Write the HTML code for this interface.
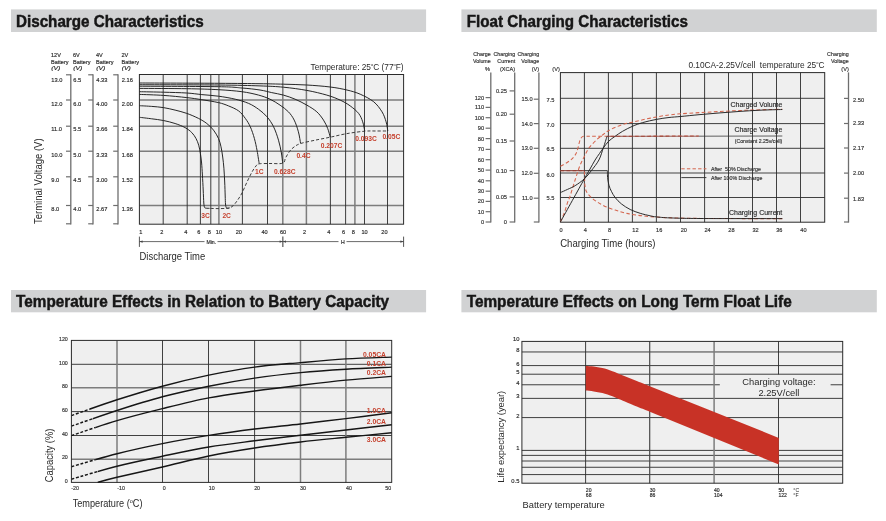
<!DOCTYPE html>
<html><head><meta charset="utf-8"><title>Battery characteristics</title>
<style>html,body{margin:0;padding:0;background:#fff;overflow:hidden}svg{display:block}text{font-family:'Liberation Sans',sans-serif}</style>
</head><body>
<svg width="886" height="521" viewBox="0 0 886 521">
<defs><filter id="soft" x="0" y="0" width="100%" height="100%" filterUnits="userSpaceOnUse"><feGaussianBlur stdDeviation="0.28"/></filter></defs>
<g filter="url(#soft)">
<rect width="886" height="521" fill="#ffffff"/>
<rect x="11" y="9.4" width="415.1" height="22.6" fill="#d1d2d3"/>
<text x="16.0" y="27.0" font-size="16.0" text-anchor="start" font-weight="bold" fill="#161616" textLength="187.6" lengthAdjust="spacingAndGlyphs" stroke="#161616" stroke-width="0.45">Discharge Characteristics</text>
<rect x="461.4" y="9.4" width="415.4" height="22.6" fill="#d1d2d3"/>
<text x="466.8" y="27.0" font-size="16.0" text-anchor="start" font-weight="bold" fill="#161616" textLength="221.2" lengthAdjust="spacingAndGlyphs" stroke="#161616" stroke-width="0.45">Float Charging Characteristics</text>
<rect x="11" y="290.0" width="415.1" height="22.3" fill="#d1d2d3"/>
<text x="16.1" y="307.4" font-size="16.0" text-anchor="start" font-weight="bold" fill="#161616" textLength="373.0" lengthAdjust="spacingAndGlyphs" stroke="#161616" stroke-width="0.45">Temperature Effects in Relation to Battery Capacity</text>
<rect x="461.4" y="290.0" width="415.4" height="22.3" fill="#d1d2d3"/>
<text x="466.7" y="307.4" font-size="16.0" text-anchor="start" font-weight="bold" fill="#161616" textLength="325.0" lengthAdjust="spacingAndGlyphs" stroke="#161616" stroke-width="0.45">Temperature Effects on Long Term Float Life</text>
<rect x="139.4" y="74.5" width="264.20000000000005" height="149.7" fill="#efefef"/>
<line x1="139.4" y1="100.0" x2="403.6" y2="100.0" stroke="#7d7d7d" stroke-width="1.4" />
<line x1="139.4" y1="126.2" x2="403.6" y2="126.2" stroke="#7d7d7d" stroke-width="1.4" />
<line x1="139.4" y1="151.2" x2="403.6" y2="151.2" stroke="#7d7d7d" stroke-width="1.4" />
<line x1="139.4" y1="176.8" x2="403.6" y2="176.8" stroke="#7d7d7d" stroke-width="1.4" />
<line x1="139.4" y1="205.5" x2="403.6" y2="205.5" stroke="#7d7d7d" stroke-width="1.4" />
<line x1="163.2" y1="74.5" x2="163.2" y2="224.2" stroke="#2a2a2a" stroke-width="0.9" />
<line x1="187.2" y1="74.5" x2="187.2" y2="224.2" stroke="#2a2a2a" stroke-width="0.9" />
<line x1="200.4" y1="74.5" x2="200.4" y2="224.2" stroke="#2a2a2a" stroke-width="0.9" />
<line x1="210.8" y1="74.5" x2="210.8" y2="224.2" stroke="#2a2a2a" stroke-width="0.9" />
<line x1="218.9" y1="74.5" x2="218.9" y2="224.2" stroke="#7d7d7d" stroke-width="1.5" />
<line x1="242.4" y1="74.5" x2="242.4" y2="224.2" stroke="#2a2a2a" stroke-width="0.9" />
<line x1="267.5" y1="74.5" x2="267.5" y2="224.2" stroke="#2a2a2a" stroke-width="0.9" />
<line x1="282.8" y1="74.5" x2="282.8" y2="224.2" stroke="#7d7d7d" stroke-width="1.5" />
<line x1="306.4" y1="74.5" x2="306.4" y2="224.2" stroke="#7d7d7d" stroke-width="1.5" />
<line x1="330.4" y1="74.5" x2="330.4" y2="224.2" stroke="#2a2a2a" stroke-width="0.9" />
<line x1="345.6" y1="74.5" x2="345.6" y2="224.2" stroke="#2a2a2a" stroke-width="0.9" />
<line x1="354.9" y1="74.5" x2="354.9" y2="224.2" stroke="#7d7d7d" stroke-width="1.5" />
<line x1="364.5" y1="74.5" x2="364.5" y2="224.2" stroke="#2a2a2a" stroke-width="0.9" />
<line x1="387.5" y1="74.5" x2="387.5" y2="224.2" stroke="#2a2a2a" stroke-width="0.9" />
<rect x="139.4" y="74.5" width="264.20000000000005" height="149.7" fill="none" stroke="#2b2b2b" stroke-width="1"/>
<path d="M139.50,117.30 C141.53,117.55 147.72,118.27 151.70,118.80 C155.68,119.33 159.50,119.72 163.40,120.50 C167.30,121.28 171.48,122.32 175.10,123.50 C178.72,124.68 182.32,126.08 185.10,127.60 C187.88,129.12 189.98,130.78 191.80,132.60 C193.62,134.42 194.85,136.40 196.00,138.50 C197.15,140.60 197.97,142.70 198.70,145.20 C199.43,147.70 199.92,150.53 200.40,153.50 C200.88,156.47 201.27,159.42 201.60,163.00 C201.93,166.58 202.13,170.50 202.40,175.00 C202.67,179.50 202.97,185.33 203.20,190.00 C203.43,194.67 203.57,200.10 203.80,203.00 C204.03,205.90 204.20,206.53 204.60,207.40 C205.00,208.27 205.38,208.05 206.20,208.20 C207.02,208.35 208.95,208.28 209.50,208.30" stroke="#1c1c1c" stroke-width="0.95" fill="none" />
<path d="M139.50,105.70 C141.53,105.82 147.72,106.08 151.70,106.40 C155.68,106.72 159.50,106.98 163.40,107.60 C167.30,108.22 171.20,109.13 175.10,110.10 C179.00,111.07 182.90,112.02 186.80,113.40 C190.70,114.78 195.17,116.72 198.50,118.40 C201.83,120.08 204.30,121.55 206.80,123.50 C209.30,125.45 211.55,127.60 213.50,130.10 C215.45,132.60 217.25,135.72 218.50,138.50 C219.75,141.28 220.30,143.72 221.00,146.80 C221.70,149.88 222.22,153.43 222.70,157.00 C223.18,160.57 223.57,164.03 223.90,168.20 C224.23,172.37 224.48,177.37 224.70,182.00 C224.92,186.63 225.07,192.33 225.20,196.00 C225.33,199.67 225.33,202.10 225.50,204.00 C225.67,205.90 225.85,206.70 226.20,207.40 C226.55,208.10 227.03,208.12 227.60,208.20 C228.17,208.28 229.27,207.95 229.60,207.90" stroke="#1c1c1c" stroke-width="0.95" fill="none" />
<path d="M139.50,94.40 C143.48,94.57 155.52,94.87 163.40,95.40 C171.28,95.93 180.40,96.88 186.80,97.60 C193.20,98.32 196.52,98.87 201.80,99.70 C207.08,100.53 214.05,101.57 218.50,102.60 C222.95,103.63 225.15,104.52 228.50,105.90 C231.85,107.28 235.80,108.82 238.60,110.90 C241.40,112.98 243.35,115.75 245.30,118.40 C247.25,121.05 248.78,123.45 250.30,126.80 C251.82,130.15 253.28,134.60 254.40,138.50 C255.52,142.40 256.35,146.95 257.00,150.20 C257.65,153.45 257.93,155.77 258.30,158.00 C258.67,160.23 259.05,162.67 259.20,163.60" stroke="#1c1c1c" stroke-width="0.95" fill="none" />
<path d="M139.50,91.70 C143.48,91.78 155.52,91.98 163.40,92.20 C171.28,92.42 180.40,92.60 186.80,93.00 C193.20,93.40 196.52,94.07 201.80,94.60 C207.08,95.13 212.93,95.43 218.50,96.20 C224.07,96.97 230.18,98.00 235.20,99.20 C240.22,100.40 244.70,101.72 248.60,103.40 C252.50,105.08 255.53,107.07 258.60,109.30 C261.67,111.53 264.50,113.88 267.00,116.80 C269.50,119.72 271.68,122.90 273.60,126.80 C275.52,130.70 277.20,135.83 278.50,140.20 C279.80,144.57 280.70,149.17 281.40,153.00 C282.10,156.83 282.48,161.50 282.70,163.20" stroke="#1c1c1c" stroke-width="0.95" fill="none" />
<path d="M139.50,88.40 C147.38,88.45 173.63,88.48 186.80,88.70 C199.97,88.92 209.32,89.20 218.50,89.70 C227.68,90.20 235.22,90.80 241.90,91.70 C248.58,92.60 253.92,93.85 258.60,95.10 C263.28,96.35 266.43,97.53 270.00,99.20 C273.57,100.87 276.93,103.00 280.00,105.10 C283.07,107.20 286.03,109.30 288.40,111.80 C290.77,114.30 292.53,116.77 294.20,120.10 C295.87,123.43 297.33,127.90 298.40,131.80 C299.47,135.70 300.23,141.55 300.60,143.50" stroke="#1c1c1c" stroke-width="0.95" fill="none" />
<path d="M139.50,86.20 C152.67,86.28 201.43,86.40 218.50,86.70 C235.57,87.00 234.98,87.45 241.90,88.00 C248.82,88.55 255.03,89.23 260.00,90.00 C264.97,90.77 267.80,91.75 271.70,92.60 C275.60,93.45 279.50,94.00 283.40,95.10 C287.30,96.20 291.20,97.53 295.10,99.20 C299.00,100.87 303.18,103.00 306.80,105.10 C310.42,107.20 314.02,109.30 316.80,111.80 C319.58,114.30 321.68,117.32 323.50,120.10 C325.32,122.88 326.58,125.68 327.70,128.50 C328.82,131.32 329.78,135.58 330.20,137.00" stroke="#1c1c1c" stroke-width="0.95" fill="none" />
<path d="M139.50,84.70 C152.67,84.75 198.42,84.80 218.50,85.00 C238.58,85.20 249.18,85.53 260.00,85.90 C270.82,86.27 275.60,86.45 283.40,87.20 C291.20,87.95 299.57,89.08 306.80,90.40 C314.03,91.72 321.23,93.48 326.80,95.10 C332.37,96.72 336.30,98.30 340.20,100.10 C344.10,101.90 347.13,103.68 350.20,105.90 C353.27,108.12 356.52,110.75 358.60,113.40 C360.68,116.05 361.68,118.87 362.70,121.80 C363.72,124.73 364.37,129.47 364.70,131.00" stroke="#1c1c1c" stroke-width="0.95" fill="none" />
<path d="M139.50,83.00 C152.67,83.05 198.42,83.18 218.50,83.30 C238.58,83.42 249.18,83.55 260.00,83.70 C270.82,83.85 275.60,83.98 283.40,84.20 C291.20,84.42 299.00,84.53 306.80,85.00 C314.60,85.47 323.52,86.17 330.20,87.00 C336.88,87.83 341.90,88.80 346.90,90.00 C351.90,91.20 355.75,92.25 360.20,94.20 C364.65,96.15 369.97,98.77 373.60,101.70 C377.23,104.63 379.92,108.45 382.00,111.80 C384.08,115.15 385.13,118.60 386.10,121.80 C387.07,125.00 387.52,129.47 387.80,131.00" stroke="#1c1c1c" stroke-width="0.95" fill="none" />
<path d="M210.50,208.40 C211.75,208.43 215.42,208.60 218.00,208.60 C220.58,208.60 224.07,208.52 226.00,208.40 C227.93,208.28 228.43,208.33 229.60,207.90 C230.77,207.47 231.77,206.95 233.00,205.80 C234.23,204.65 235.50,203.13 237.00,201.00 C238.50,198.87 240.33,196.17 242.00,193.00 C243.67,189.83 245.33,185.50 247.00,182.00 C248.67,178.50 250.50,174.67 252.00,172.00 C253.50,169.33 254.80,167.37 256.00,166.00 C257.20,164.63 256.87,164.22 259.20,163.80 C261.53,163.38 266.08,163.60 270.00,163.50 C273.92,163.40 280.12,164.12 282.70,163.20 C285.28,162.28 284.37,159.95 285.50,158.00 C286.63,156.05 288.08,153.33 289.50,151.50 C290.92,149.67 292.15,148.33 294.00,147.00 C295.85,145.67 297.08,144.63 300.60,143.50 C304.12,142.37 310.17,141.25 315.10,140.20 C320.03,139.15 324.90,138.30 330.20,137.20 C335.50,136.10 341.15,134.60 346.90,133.60 C352.65,132.60 359.85,131.63 364.70,131.20 C369.55,130.77 372.15,131.03 376.00,131.00 C379.85,130.97 385.83,131.00 387.80,131.00" stroke="#2a2a2a" stroke-width="0.9" fill="none" stroke-dasharray="3.2 2"/>
<text x="201.3" y="217.7" font-size="6.7" text-anchor="start" font-weight="bold" fill="#c5402d" >3C</text>
<text x="222.4" y="217.7" font-size="6.7" text-anchor="start" font-weight="bold" fill="#c5402d" >2C</text>
<text x="255" y="173.8" font-size="6.7" text-anchor="start" font-weight="bold" fill="#c5402d" >1C</text>
<text x="273.9" y="173.8" font-size="6.7" text-anchor="start" font-weight="bold" fill="#c5402d" >0.628C</text>
<text x="296.4" y="158" font-size="6.7" text-anchor="start" font-weight="bold" fill="#c5402d" >0.4C</text>
<text x="320.7" y="148.3" font-size="6.7" text-anchor="start" font-weight="bold" fill="#c5402d" >0.207C</text>
<text x="355.3" y="140.5" font-size="6.7" text-anchor="start" font-weight="bold" fill="#c5402d" >0.093C</text>
<text x="382.4" y="139" font-size="6.7" text-anchor="start" font-weight="bold" fill="#c5402d" >0.05C</text>
<text x="51.0" y="57.1" font-size="5.55" text-anchor="start" font-weight="normal" fill="#2b2b2b"  stroke="#2b2b2b" stroke-width="0.16">12V</text>
<text x="51.0" y="64.1" font-size="5.55" text-anchor="start" font-weight="normal" fill="#2b2b2b"  stroke="#2b2b2b" stroke-width="0.16">Battery</text>
<text x="51.199999999999996" y="70.4" font-size="5.55" text-anchor="start" font-weight="normal" fill="#2b2b2b" textLength="9.2" lengthAdjust="spacingAndGlyphs" font-style="italic" stroke="#2b2b2b" stroke-width="0.16">(V)</text>
<text x="51.3" y="82.1" font-size="5.7" text-anchor="start" font-weight="normal" fill="#2b2b2b"  stroke="#2b2b2b" stroke-width="0.16">13.0</text>
<text x="51.3" y="105.5" font-size="5.7" text-anchor="start" font-weight="normal" fill="#2b2b2b"  stroke="#2b2b2b" stroke-width="0.16">12.0</text>
<text x="51.3" y="131.0" font-size="5.7" text-anchor="start" font-weight="normal" fill="#2b2b2b"  stroke="#2b2b2b" stroke-width="0.16">11.0</text>
<text x="51.3" y="156.7" font-size="5.7" text-anchor="start" font-weight="normal" fill="#2b2b2b"  stroke="#2b2b2b" stroke-width="0.16">10.0</text>
<text x="51.3" y="182.1" font-size="5.7" text-anchor="start" font-weight="normal" fill="#2b2b2b"  stroke="#2b2b2b" stroke-width="0.16">9.0</text>
<text x="51.3" y="210.5" font-size="5.7" text-anchor="start" font-weight="normal" fill="#2b2b2b"  stroke="#2b2b2b" stroke-width="0.16">8.0</text>
<text x="73.0" y="57.1" font-size="5.55" text-anchor="start" font-weight="normal" fill="#2b2b2b"  stroke="#2b2b2b" stroke-width="0.16">6V</text>
<text x="73.0" y="64.1" font-size="5.55" text-anchor="start" font-weight="normal" fill="#2b2b2b"  stroke="#2b2b2b" stroke-width="0.16">Battery</text>
<text x="73.2" y="70.4" font-size="5.55" text-anchor="start" font-weight="normal" fill="#2b2b2b" textLength="9.2" lengthAdjust="spacingAndGlyphs" font-style="italic" stroke="#2b2b2b" stroke-width="0.16">(V)</text>
<text x="73.3" y="82.1" font-size="5.7" text-anchor="start" font-weight="normal" fill="#2b2b2b"  stroke="#2b2b2b" stroke-width="0.16">6.5</text>
<text x="73.3" y="105.5" font-size="5.7" text-anchor="start" font-weight="normal" fill="#2b2b2b"  stroke="#2b2b2b" stroke-width="0.16">6.0</text>
<text x="73.3" y="131.0" font-size="5.7" text-anchor="start" font-weight="normal" fill="#2b2b2b"  stroke="#2b2b2b" stroke-width="0.16">5.5</text>
<text x="73.3" y="156.7" font-size="5.7" text-anchor="start" font-weight="normal" fill="#2b2b2b"  stroke="#2b2b2b" stroke-width="0.16">5.0</text>
<text x="73.3" y="182.1" font-size="5.7" text-anchor="start" font-weight="normal" fill="#2b2b2b"  stroke="#2b2b2b" stroke-width="0.16">4.5</text>
<text x="73.3" y="210.5" font-size="5.7" text-anchor="start" font-weight="normal" fill="#2b2b2b"  stroke="#2b2b2b" stroke-width="0.16">4.0</text>
<line x1="70.8" y1="74.2" x2="70.8" y2="224.4" stroke="#6e6e6e" stroke-width="1.3" />
<line x1="66.0" y1="74.8" x2="70.8" y2="74.8" stroke="#6e6e6e" stroke-width="1.2" />
<line x1="66.0" y1="100.0" x2="70.8" y2="100.0" stroke="#6e6e6e" stroke-width="1.2" />
<line x1="66.0" y1="126.2" x2="70.8" y2="126.2" stroke="#6e6e6e" stroke-width="1.2" />
<line x1="66.0" y1="151.2" x2="70.8" y2="151.2" stroke="#6e6e6e" stroke-width="1.2" />
<line x1="66.0" y1="176.8" x2="70.8" y2="176.8" stroke="#6e6e6e" stroke-width="1.2" />
<line x1="66.0" y1="205.5" x2="70.8" y2="205.5" stroke="#6e6e6e" stroke-width="1.2" />
<line x1="66.0" y1="223.8" x2="70.8" y2="223.8" stroke="#6e6e6e" stroke-width="1.2" />
<text x="96.0" y="57.1" font-size="5.55" text-anchor="start" font-weight="normal" fill="#2b2b2b"  stroke="#2b2b2b" stroke-width="0.16">4V</text>
<text x="96.0" y="64.1" font-size="5.55" text-anchor="start" font-weight="normal" fill="#2b2b2b"  stroke="#2b2b2b" stroke-width="0.16">Battery</text>
<text x="96.2" y="70.4" font-size="5.55" text-anchor="start" font-weight="normal" fill="#2b2b2b" textLength="9.2" lengthAdjust="spacingAndGlyphs" font-style="italic" stroke="#2b2b2b" stroke-width="0.16">(V)</text>
<text x="96.3" y="82.1" font-size="5.7" text-anchor="start" font-weight="normal" fill="#2b2b2b"  stroke="#2b2b2b" stroke-width="0.16">4.33</text>
<text x="96.3" y="105.5" font-size="5.7" text-anchor="start" font-weight="normal" fill="#2b2b2b"  stroke="#2b2b2b" stroke-width="0.16">4.00</text>
<text x="96.3" y="131.0" font-size="5.7" text-anchor="start" font-weight="normal" fill="#2b2b2b"  stroke="#2b2b2b" stroke-width="0.16">3.66</text>
<text x="96.3" y="156.7" font-size="5.7" text-anchor="start" font-weight="normal" fill="#2b2b2b"  stroke="#2b2b2b" stroke-width="0.16">3.33</text>
<text x="96.3" y="182.1" font-size="5.7" text-anchor="start" font-weight="normal" fill="#2b2b2b"  stroke="#2b2b2b" stroke-width="0.16">3.00</text>
<text x="96.3" y="210.5" font-size="5.7" text-anchor="start" font-weight="normal" fill="#2b2b2b"  stroke="#2b2b2b" stroke-width="0.16">2.67</text>
<line x1="93.0" y1="74.2" x2="93.0" y2="224.4" stroke="#6e6e6e" stroke-width="1.3" />
<line x1="88.2" y1="74.8" x2="93.0" y2="74.8" stroke="#6e6e6e" stroke-width="1.2" />
<line x1="88.2" y1="100.0" x2="93.0" y2="100.0" stroke="#6e6e6e" stroke-width="1.2" />
<line x1="88.2" y1="126.2" x2="93.0" y2="126.2" stroke="#6e6e6e" stroke-width="1.2" />
<line x1="88.2" y1="151.2" x2="93.0" y2="151.2" stroke="#6e6e6e" stroke-width="1.2" />
<line x1="88.2" y1="176.8" x2="93.0" y2="176.8" stroke="#6e6e6e" stroke-width="1.2" />
<line x1="88.2" y1="205.5" x2="93.0" y2="205.5" stroke="#6e6e6e" stroke-width="1.2" />
<line x1="88.2" y1="223.8" x2="93.0" y2="223.8" stroke="#6e6e6e" stroke-width="1.2" />
<text x="121.5" y="57.1" font-size="5.55" text-anchor="start" font-weight="normal" fill="#2b2b2b"  stroke="#2b2b2b" stroke-width="0.16">2V</text>
<text x="121.5" y="64.1" font-size="5.55" text-anchor="start" font-weight="normal" fill="#2b2b2b"  stroke="#2b2b2b" stroke-width="0.16">Battery</text>
<text x="121.7" y="70.4" font-size="5.55" text-anchor="start" font-weight="normal" fill="#2b2b2b" textLength="9.2" lengthAdjust="spacingAndGlyphs" font-style="italic" stroke="#2b2b2b" stroke-width="0.16">(V)</text>
<text x="121.8" y="82.1" font-size="5.7" text-anchor="start" font-weight="normal" fill="#2b2b2b"  stroke="#2b2b2b" stroke-width="0.16">2.16</text>
<text x="121.8" y="105.5" font-size="5.7" text-anchor="start" font-weight="normal" fill="#2b2b2b"  stroke="#2b2b2b" stroke-width="0.16">2.00</text>
<text x="121.8" y="131.0" font-size="5.7" text-anchor="start" font-weight="normal" fill="#2b2b2b"  stroke="#2b2b2b" stroke-width="0.16">1.84</text>
<text x="121.8" y="156.7" font-size="5.7" text-anchor="start" font-weight="normal" fill="#2b2b2b"  stroke="#2b2b2b" stroke-width="0.16">1.68</text>
<text x="121.8" y="182.1" font-size="5.7" text-anchor="start" font-weight="normal" fill="#2b2b2b"  stroke="#2b2b2b" stroke-width="0.16">1.52</text>
<text x="121.8" y="210.5" font-size="5.7" text-anchor="start" font-weight="normal" fill="#2b2b2b"  stroke="#2b2b2b" stroke-width="0.16">1.36</text>
<line x1="118.0" y1="74.2" x2="118.0" y2="224.4" stroke="#6e6e6e" stroke-width="1.3" />
<line x1="113.2" y1="74.8" x2="118.0" y2="74.8" stroke="#6e6e6e" stroke-width="1.2" />
<line x1="113.2" y1="100.0" x2="118.0" y2="100.0" stroke="#6e6e6e" stroke-width="1.2" />
<line x1="113.2" y1="126.2" x2="118.0" y2="126.2" stroke="#6e6e6e" stroke-width="1.2" />
<line x1="113.2" y1="151.2" x2="118.0" y2="151.2" stroke="#6e6e6e" stroke-width="1.2" />
<line x1="113.2" y1="176.8" x2="118.0" y2="176.8" stroke="#6e6e6e" stroke-width="1.2" />
<line x1="113.2" y1="205.5" x2="118.0" y2="205.5" stroke="#6e6e6e" stroke-width="1.2" />
<line x1="113.2" y1="223.8" x2="118.0" y2="223.8" stroke="#6e6e6e" stroke-width="1.2" />
<text x="140.9" y="233.6" font-size="5.6" text-anchor="middle" font-weight="normal" fill="#2b2b2b"  stroke="#2b2b2b" stroke-width="0.16">1</text>
<text x="161.7" y="233.6" font-size="5.6" text-anchor="middle" font-weight="normal" fill="#2b2b2b"  stroke="#2b2b2b" stroke-width="0.16">2</text>
<text x="185.7" y="233.6" font-size="5.6" text-anchor="middle" font-weight="normal" fill="#2b2b2b"  stroke="#2b2b2b" stroke-width="0.16">4</text>
<text x="198.7" y="233.6" font-size="5.6" text-anchor="middle" font-weight="normal" fill="#2b2b2b"  stroke="#2b2b2b" stroke-width="0.16">6</text>
<text x="209.3" y="233.6" font-size="5.6" text-anchor="middle" font-weight="normal" fill="#2b2b2b"  stroke="#2b2b2b" stroke-width="0.16">8</text>
<text x="218.9" y="233.6" font-size="5.6" text-anchor="middle" font-weight="normal" fill="#2b2b2b"  stroke="#2b2b2b" stroke-width="0.16">10</text>
<text x="238.8" y="233.6" font-size="5.6" text-anchor="middle" font-weight="normal" fill="#2b2b2b"  stroke="#2b2b2b" stroke-width="0.16">20</text>
<text x="264.6" y="233.6" font-size="5.6" text-anchor="middle" font-weight="normal" fill="#2b2b2b"  stroke="#2b2b2b" stroke-width="0.16">40</text>
<text x="283.0" y="233.6" font-size="5.6" text-anchor="middle" font-weight="normal" fill="#2b2b2b"  stroke="#2b2b2b" stroke-width="0.16">60</text>
<text x="304.5" y="233.6" font-size="5.6" text-anchor="middle" font-weight="normal" fill="#2b2b2b"  stroke="#2b2b2b" stroke-width="0.16">2</text>
<text x="328.7" y="233.6" font-size="5.6" text-anchor="middle" font-weight="normal" fill="#2b2b2b"  stroke="#2b2b2b" stroke-width="0.16">4</text>
<text x="343.5" y="233.6" font-size="5.6" text-anchor="middle" font-weight="normal" fill="#2b2b2b"  stroke="#2b2b2b" stroke-width="0.16">6</text>
<text x="353.3" y="233.6" font-size="5.6" text-anchor="middle" font-weight="normal" fill="#2b2b2b"  stroke="#2b2b2b" stroke-width="0.16">8</text>
<text x="364.6" y="233.6" font-size="5.6" text-anchor="middle" font-weight="normal" fill="#2b2b2b"  stroke="#2b2b2b" stroke-width="0.16">10</text>
<text x="384.4" y="233.6" font-size="5.6" text-anchor="middle" font-weight="normal" fill="#2b2b2b"  stroke="#2b2b2b" stroke-width="0.16">20</text>
<line x1="139.4" y1="236.6" x2="139.4" y2="246.9" stroke="#555" stroke-width="1.0" />
<line x1="282.8" y1="236.6" x2="282.8" y2="246.9" stroke="#777" stroke-width="1.5" />
<line x1="403.6" y1="236.6" x2="403.6" y2="246.9" stroke="#555" stroke-width="1.0" />
<line x1="139.4" y1="241.6" x2="204.5" y2="241.6" stroke="#444" stroke-width="0.8" />
<line x1="217.5" y1="241.6" x2="282.8" y2="241.6" stroke="#444" stroke-width="0.8" />
<line x1="282.8" y1="241.6" x2="338.5" y2="241.6" stroke="#444" stroke-width="0.8" />
<line x1="346.5" y1="241.6" x2="403.6" y2="241.6" stroke="#444" stroke-width="0.8" />
<path d="M139.4,241.6 l3.2,-1.2 l0,2.4 z" fill="#444"/>
<path d="M282.8,241.6 l-3.2,-1.2 l0,2.4 z" fill="#444"/>
<path d="M282.8,241.6 l3.2,-1.2 l0,2.4 z" fill="#444"/>
<path d="M403.6,241.6 l-3.2,-1.2 l0,2.4 z" fill="#444"/>
<text x="211.3" y="243.6" font-size="5.2" text-anchor="middle" font-weight="normal" fill="#2b2b2b"  stroke="#2b2b2b" stroke-width="0.16">Min.</text>
<text x="342.9" y="243.6" font-size="5.2" text-anchor="middle" font-weight="normal" fill="#2b2b2b"  stroke="#2b2b2b" stroke-width="0.16">H</text>
<text x="139.5" y="260.2" font-size="10.2" text-anchor="start" font-weight="normal" fill="#2a2a2a" textLength="65.7" lengthAdjust="spacingAndGlyphs" >Discharge Time</text>
<text transform="translate(42.2,224.0) rotate(-90)" font-size="10.2" fill="#2a2a2a" textLength="85.6" lengthAdjust="spacingAndGlyphs">Terminal Voltage (V)</text>
<text x="403.6" y="70" font-size="8.3" text-anchor="end" fill="#2a2a2a">Temperature: 25<tspan font-size="4.0" dy="-3.9">o</tspan><tspan dy="3.9">C (77</tspan><tspan font-size="4.0" dy="-3.9">o</tspan><tspan dy="3.9">F)</tspan></text>
<rect x="560.4" y="72.6" width="264.30000000000007" height="149.6" fill="#efefef"/>
<line x1="560.4" y1="98.3" x2="824.7" y2="98.3" stroke="#2a2a2a" stroke-width="0.9" />
<line x1="560.4" y1="123.6" x2="824.7" y2="123.6" stroke="#2a2a2a" stroke-width="0.9" />
<line x1="560.4" y1="148.3" x2="824.7" y2="148.3" stroke="#2a2a2a" stroke-width="0.9" />
<line x1="560.4" y1="173.0" x2="824.7" y2="173.0" stroke="#7d7d7d" stroke-width="1.5" />
<line x1="560.4" y1="197.5" x2="824.7" y2="197.5" stroke="#2a2a2a" stroke-width="0.9" />
<line x1="584.4" y1="72.6" x2="584.4" y2="222.2" stroke="#2a2a2a" stroke-width="0.9" />
<line x1="608.4" y1="72.6" x2="608.4" y2="222.2" stroke="#2a2a2a" stroke-width="0.9" />
<line x1="632.4" y1="72.6" x2="632.4" y2="222.2" stroke="#2a2a2a" stroke-width="0.9" />
<line x1="656.4" y1="72.6" x2="656.4" y2="222.2" stroke="#2a2a2a" stroke-width="0.9" />
<line x1="680.5" y1="72.6" x2="680.5" y2="222.2" stroke="#2a2a2a" stroke-width="0.9" />
<line x1="704.6" y1="72.6" x2="704.6" y2="222.2" stroke="#2a2a2a" stroke-width="0.9" />
<line x1="728.5" y1="72.6" x2="728.5" y2="222.2" stroke="#2a2a2a" stroke-width="0.9" />
<line x1="752.5" y1="72.6" x2="752.5" y2="222.2" stroke="#2a2a2a" stroke-width="0.9" />
<line x1="776.5" y1="72.6" x2="776.5" y2="222.2" stroke="#2a2a2a" stroke-width="0.9" />
<line x1="800.5" y1="72.6" x2="800.5" y2="222.2" stroke="#2a2a2a" stroke-width="0.9" />
<rect x="560.4" y="72.6" width="264.30000000000007" height="149.6" fill="none" stroke="#2b2b2b" stroke-width="1"/>
<path d="M560.40,222.00 C561.07,220.43 563.22,215.83 564.40,212.60 C565.58,209.37 566.57,205.32 567.50,202.60 C568.43,199.88 568.73,200.07 570.00,196.30 C571.27,192.53 573.43,185.13 575.10,180.00 C576.77,174.87 578.45,169.43 580.00,165.50 C581.55,161.57 582.93,159.28 584.40,156.40 C585.87,153.52 586.82,150.92 588.80,148.20 C590.78,145.48 593.90,142.38 596.30,140.10 C598.70,137.82 601.17,136.07 603.20,134.50 C605.23,132.93 606.30,131.97 608.50,130.70 C610.70,129.43 613.63,128.05 616.40,126.90 C619.17,125.75 622.43,124.58 625.10,123.80 C627.77,123.02 629.47,122.87 632.40,122.20 C635.33,121.53 638.68,120.68 642.70,119.80 C646.72,118.92 652.12,117.70 656.50,116.90 C660.88,116.10 664.98,115.52 669.00,115.00 C673.02,114.48 675.43,114.20 680.60,113.80 C685.77,113.40 693.43,112.98 700.00,112.60 C706.57,112.22 713.33,111.85 720.00,111.50 C726.67,111.15 733.33,110.78 740.00,110.50 C746.67,110.22 752.95,110.00 760.00,109.80 C767.05,109.60 778.58,109.38 782.30,109.30" stroke="#d4654e" stroke-width="1.05" fill="none" stroke-dasharray="3.7 2.4"/>
<path d="M560.40,166.30 C561.58,165.63 565.40,163.72 567.50,162.30 C569.60,160.88 571.53,159.35 573.00,157.80 C574.47,156.25 575.45,154.70 576.30,153.00 C577.15,151.30 577.48,149.75 578.10,147.60 C578.72,145.45 579.27,141.93 580.00,140.10 C580.73,138.27 581.50,137.23 582.50,136.60 C583.50,135.97 583.08,136.35 586.00,136.30 C588.92,136.25 581.20,136.35 600.00,136.30 C618.80,136.25 682.33,136.05 698.80,136.00" stroke="#d4654e" stroke-width="1.05" fill="none" stroke-dasharray="3.7 2.4"/>
<path d="M560.4,170.7 L584.3,170.7 L584.40,172.00 C584.43,173.00 584.52,175.82 584.60,178.00 C584.68,180.18 584.62,182.88 584.90,185.10 C585.18,187.32 585.43,189.43 586.30,191.30 C587.17,193.17 588.42,194.62 590.10,196.30 C591.78,197.98 593.90,199.72 596.40,201.40 C598.90,203.08 601.97,204.95 605.10,206.40 C608.23,207.85 611.85,209.00 615.20,210.10 C618.55,211.20 621.65,212.17 625.20,213.00 C628.75,213.83 632.33,214.50 636.50,215.10 C640.67,215.70 644.62,216.15 650.20,216.60 C655.78,217.05 661.70,217.50 670.00,217.80 C678.30,218.10 688.33,218.27 700.00,218.40 C711.67,218.53 726.28,218.57 740.00,218.60 C753.72,218.63 775.25,218.60 782.30,218.60" stroke="#d4654e" stroke-width="1.05" fill="none" stroke-dasharray="3.7 2.4"/>
<path d="M560.40,222.00 C562.40,218.40 568.40,207.60 572.40,200.40 C576.40,193.20 581.47,184.03 584.40,178.80 C587.33,173.57 588.22,172.13 590.00,169.00 C591.78,165.87 593.52,162.58 595.10,160.00 C596.68,157.42 598.15,155.47 599.50,153.50 C600.85,151.53 601.70,150.22 603.20,148.20 C604.70,146.18 606.52,143.38 608.50,141.40 C610.48,139.42 612.75,137.98 615.10,136.30 C617.45,134.62 619.72,132.97 622.60,131.30 C625.48,129.63 629.05,127.75 632.40,126.30 C635.75,124.85 638.68,123.75 642.70,122.60 C646.72,121.45 652.12,120.25 656.50,119.40 C660.88,118.55 664.98,117.98 669.00,117.50 C673.02,117.02 675.43,116.98 680.60,116.50 C685.77,116.02 693.43,115.20 700.00,114.60 C706.57,114.00 713.33,113.43 720.00,112.90 C726.67,112.37 733.33,111.85 740.00,111.40 C746.67,110.95 752.95,110.52 760.00,110.20 C767.05,109.88 778.58,109.62 782.30,109.50" stroke="#222" stroke-width="0.95" fill="none" />
<path d="M560.40,192.60 C561.58,192.07 565.05,190.55 567.50,189.40 C569.95,188.25 572.28,187.47 575.10,185.70 C577.92,183.93 581.70,181.30 584.40,178.80 C587.10,176.30 588.88,173.83 591.30,170.70 C593.72,167.57 596.92,163.75 598.90,160.00 C600.88,156.25 602.12,151.28 603.20,148.20 C604.28,145.12 604.77,143.48 605.40,141.50 C606.03,139.52 606.73,137.17 607.00,136.30" stroke="#222" stroke-width="0.95" fill="none" />
<path d="M584.3,170.7 L607.3,170.7 L607.40,170.70 C607.41,171.00 607.42,171.37 607.45,172.50 C607.48,173.63 607.36,175.40 607.60,177.50 C607.84,179.60 608.27,182.80 608.90,185.10 C609.53,187.40 610.35,189.22 611.40,191.30 C612.45,193.38 613.53,195.50 615.20,197.60 C616.87,199.70 618.90,201.92 621.40,203.90 C623.90,205.88 627.07,207.93 630.20,209.50 C633.33,211.07 636.87,212.25 640.20,213.30 C643.53,214.35 647.48,215.20 650.20,215.80 C652.92,216.40 653.20,216.55 656.50,216.90 C659.80,217.25 662.75,217.63 670.00,217.90 C677.25,218.17 681.28,218.38 700.00,218.50 C718.72,218.62 768.58,218.58 782.30,218.60" stroke="#222" stroke-width="0.95" fill="none" />
<line x1="560.4" y1="170.7" x2="584.6" y2="170.7" stroke="#7e3028" stroke-width="1.0" />
<line x1="607.0" y1="136.3" x2="698.8" y2="136.2" stroke="#7e3028" stroke-width="0.8" />
<line x1="698.8" y1="136.2" x2="782.3" y2="136.0" stroke="#3a3a3a" stroke-width="0.8" />
<text x="782.3" y="106.7" font-size="6.95" text-anchor="end" font-weight="normal" fill="#2c2c2c"  stroke="#2c2c2c" stroke-width="0.16">Charged Volume</text>
<text x="782.3" y="132.0" font-size="6.95" text-anchor="end" font-weight="normal" fill="#2c2c2c"  stroke="#2c2c2c" stroke-width="0.16">Charge Voltage</text>
<text x="782.3" y="143.1" font-size="5.2" text-anchor="end" font-weight="normal" fill="#333"  stroke="#333" stroke-width="0.16">(Constant 2.25v/cell)</text>
<text x="782.3" y="214.8" font-size="6.95" text-anchor="end" font-weight="normal" fill="#2c2c2c"  stroke="#2c2c2c" stroke-width="0.16">Charging Current</text>
<line x1="681.3" y1="168.8" x2="706.4" y2="168.8" stroke="#d4654e" stroke-width="1.0" stroke-dasharray="3.4 2.2"/>
<line x1="681.3" y1="177.6" x2="706.4" y2="177.6" stroke="#2a2a2a" stroke-width="0.9" />
<text x="710.9" y="170.7" font-size="5.3" text-anchor="start" font-weight="normal" fill="#333"  stroke="#333" stroke-width="0.16">After&#160; 50% Discharge</text>
<text x="710.9" y="179.5" font-size="5.3" text-anchor="start" font-weight="normal" fill="#333"  stroke="#333" stroke-width="0.16">After 100% Discharge</text>
<line x1="490.8" y1="72.4" x2="490.8" y2="222.6" stroke="#6e6e6e" stroke-width="1.3" />
<line x1="514.7" y1="72.4" x2="514.7" y2="222.6" stroke="#6e6e6e" stroke-width="1.3" />
<line x1="538.9" y1="72.4" x2="538.9" y2="222.6" stroke="#6e6e6e" stroke-width="1.3" />
<line x1="485.6" y1="97.6" x2="490.8" y2="97.6" stroke="#6e6e6e" stroke-width="1.2" />
<text x="484.2" y="99.6" font-size="5.7" text-anchor="end" font-weight="normal" fill="#333"  stroke="#333" stroke-width="0.16">120</text>
<line x1="485.6" y1="107.4" x2="490.8" y2="107.4" stroke="#6e6e6e" stroke-width="1.2" />
<text x="484.2" y="109.4" font-size="5.7" text-anchor="end" font-weight="normal" fill="#333"  stroke="#333" stroke-width="0.16">110</text>
<line x1="485.6" y1="117.7" x2="490.8" y2="117.7" stroke="#6e6e6e" stroke-width="1.2" />
<text x="484.2" y="119.7" font-size="5.7" text-anchor="end" font-weight="normal" fill="#333"  stroke="#333" stroke-width="0.16">100</text>
<line x1="485.6" y1="128.2" x2="490.8" y2="128.2" stroke="#6e6e6e" stroke-width="1.2" />
<text x="484.2" y="130.2" font-size="5.7" text-anchor="end" font-weight="normal" fill="#333"  stroke="#333" stroke-width="0.16">90</text>
<line x1="485.6" y1="138.6" x2="490.8" y2="138.6" stroke="#6e6e6e" stroke-width="1.2" />
<text x="484.2" y="140.6" font-size="5.7" text-anchor="end" font-weight="normal" fill="#333"  stroke="#333" stroke-width="0.16">80</text>
<line x1="485.6" y1="149.4" x2="490.8" y2="149.4" stroke="#6e6e6e" stroke-width="1.2" />
<text x="484.2" y="151.4" font-size="5.7" text-anchor="end" font-weight="normal" fill="#333"  stroke="#333" stroke-width="0.16">70</text>
<line x1="485.6" y1="159.7" x2="490.8" y2="159.7" stroke="#6e6e6e" stroke-width="1.2" />
<text x="484.2" y="161.7" font-size="5.7" text-anchor="end" font-weight="normal" fill="#333"  stroke="#333" stroke-width="0.16">60</text>
<line x1="485.6" y1="170.1" x2="490.8" y2="170.1" stroke="#6e6e6e" stroke-width="1.2" />
<text x="484.2" y="172.1" font-size="5.7" text-anchor="end" font-weight="normal" fill="#333"  stroke="#333" stroke-width="0.16">50</text>
<line x1="485.6" y1="180.8" x2="490.8" y2="180.8" stroke="#6e6e6e" stroke-width="1.2" />
<text x="484.2" y="182.8" font-size="5.7" text-anchor="end" font-weight="normal" fill="#333"  stroke="#333" stroke-width="0.16">40</text>
<line x1="485.6" y1="191.2" x2="490.8" y2="191.2" stroke="#6e6e6e" stroke-width="1.2" />
<text x="484.2" y="193.2" font-size="5.7" text-anchor="end" font-weight="normal" fill="#333"  stroke="#333" stroke-width="0.16">30</text>
<line x1="485.6" y1="201.4" x2="490.8" y2="201.4" stroke="#6e6e6e" stroke-width="1.2" />
<text x="484.2" y="203.4" font-size="5.7" text-anchor="end" font-weight="normal" fill="#333"  stroke="#333" stroke-width="0.16">20</text>
<line x1="485.6" y1="211.7" x2="490.8" y2="211.7" stroke="#6e6e6e" stroke-width="1.2" />
<text x="484.2" y="213.7" font-size="5.7" text-anchor="end" font-weight="normal" fill="#333"  stroke="#333" stroke-width="0.16">10</text>
<line x1="485.6" y1="222.0" x2="490.8" y2="222.0" stroke="#6e6e6e" stroke-width="1.2" />
<text x="484.2" y="224.0" font-size="5.7" text-anchor="end" font-weight="normal" fill="#333"  stroke="#333" stroke-width="0.16">0</text>
<line x1="509.6" y1="90.9" x2="514.7" y2="90.9" stroke="#6e6e6e" stroke-width="1.2" />
<text x="507.0" y="92.9" font-size="5.7" text-anchor="end" font-weight="normal" fill="#333"  stroke="#333" stroke-width="0.16">0.25</text>
<line x1="509.6" y1="114.2" x2="514.7" y2="114.2" stroke="#6e6e6e" stroke-width="1.2" />
<text x="507.0" y="116.2" font-size="5.7" text-anchor="end" font-weight="normal" fill="#333"  stroke="#333" stroke-width="0.16">0.20</text>
<line x1="509.6" y1="141.0" x2="514.7" y2="141.0" stroke="#6e6e6e" stroke-width="1.2" />
<text x="507.0" y="143.0" font-size="5.7" text-anchor="end" font-weight="normal" fill="#333"  stroke="#333" stroke-width="0.16">0.15</text>
<line x1="509.6" y1="170.6" x2="514.7" y2="170.6" stroke="#6e6e6e" stroke-width="1.2" />
<text x="507.0" y="172.6" font-size="5.7" text-anchor="end" font-weight="normal" fill="#333"  stroke="#333" stroke-width="0.16">0.10</text>
<line x1="509.6" y1="196.9" x2="514.7" y2="196.9" stroke="#6e6e6e" stroke-width="1.2" />
<text x="507.0" y="198.9" font-size="5.7" text-anchor="end" font-weight="normal" fill="#333"  stroke="#333" stroke-width="0.16">0.05</text>
<line x1="509.6" y1="222.0" x2="514.7" y2="222.0" stroke="#6e6e6e" stroke-width="1.2" />
<text x="507.0" y="224.0" font-size="5.7" text-anchor="end" font-weight="normal" fill="#333"  stroke="#333" stroke-width="0.16">0</text>
<line x1="533.8" y1="99.2" x2="538.9" y2="99.2" stroke="#6e6e6e" stroke-width="1.2" />
<text x="532.6" y="101.2" font-size="5.7" text-anchor="end" font-weight="normal" fill="#333"  stroke="#333" stroke-width="0.16">15.0</text>
<line x1="533.8" y1="123.6" x2="538.9" y2="123.6" stroke="#6e6e6e" stroke-width="1.2" />
<text x="532.6" y="125.6" font-size="5.7" text-anchor="end" font-weight="normal" fill="#333"  stroke="#333" stroke-width="0.16">14.0</text>
<line x1="533.8" y1="148.3" x2="538.9" y2="148.3" stroke="#6e6e6e" stroke-width="1.2" />
<text x="532.6" y="150.3" font-size="5.7" text-anchor="end" font-weight="normal" fill="#333"  stroke="#333" stroke-width="0.16">13.0</text>
<line x1="533.8" y1="173.3" x2="538.9" y2="173.3" stroke="#6e6e6e" stroke-width="1.2" />
<text x="532.6" y="175.3" font-size="5.7" text-anchor="end" font-weight="normal" fill="#333"  stroke="#333" stroke-width="0.16">12.0</text>
<line x1="533.8" y1="198.2" x2="538.9" y2="198.2" stroke="#6e6e6e" stroke-width="1.2" />
<text x="532.6" y="200.2" font-size="5.7" text-anchor="end" font-weight="normal" fill="#333"  stroke="#333" stroke-width="0.16">11.0</text>
<line x1="533.8" y1="222.0" x2="538.9" y2="222.0" stroke="#6e6e6e" stroke-width="1.2" />
<text x="546.5" y="101.6" font-size="5.7" text-anchor="start" font-weight="normal" fill="#333"  stroke="#333" stroke-width="0.16">7.5</text>
<text x="546.5" y="126.5" font-size="5.7" text-anchor="start" font-weight="normal" fill="#333"  stroke="#333" stroke-width="0.16">7.0</text>
<text x="546.5" y="151.2" font-size="5.7" text-anchor="start" font-weight="normal" fill="#333"  stroke="#333" stroke-width="0.16">6.5</text>
<text x="546.5" y="176.6" font-size="5.7" text-anchor="start" font-weight="normal" fill="#333"  stroke="#333" stroke-width="0.16">6.0</text>
<text x="546.5" y="200.4" font-size="5.7" text-anchor="start" font-weight="normal" fill="#333"  stroke="#333" stroke-width="0.16">5.5</text>
<text x="490.8" y="55.9" font-size="5.35" text-anchor="end" font-weight="normal" fill="#333"  stroke="#333" stroke-width="0.16">Charge</text>
<text x="490.8" y="62.6" font-size="5.35" text-anchor="end" font-weight="normal" fill="#333"  stroke="#333" stroke-width="0.16">Volume</text>
<text x="490.0" y="71.2" font-size="5.6" text-anchor="end" font-weight="normal" fill="#333"  stroke="#333" stroke-width="0.16">%</text>
<text x="515.2" y="55.9" font-size="5.35" text-anchor="end" font-weight="normal" fill="#333"  stroke="#333" stroke-width="0.16">Charging</text>
<text x="515.2" y="62.6" font-size="5.35" text-anchor="end" font-weight="normal" fill="#333"  stroke="#333" stroke-width="0.16">Current</text>
<text x="515.2" y="71.2" font-size="5.6" text-anchor="end" font-weight="normal" fill="#333"  stroke="#333" stroke-width="0.16">(XCA)</text>
<text x="539.2" y="55.9" font-size="5.35" text-anchor="end" font-weight="normal" fill="#333"  stroke="#333" stroke-width="0.16">Charging</text>
<text x="539.2" y="62.6" font-size="5.35" text-anchor="end" font-weight="normal" fill="#333"  stroke="#333" stroke-width="0.16">Voltage</text>
<text x="539.2" y="71.2" font-size="5.6" text-anchor="end" font-weight="normal" fill="#333"  stroke="#333" stroke-width="0.16">(V)</text>
<text x="559.8" y="71.2" font-size="5.6" text-anchor="end" font-weight="normal" fill="#333"  stroke="#333" stroke-width="0.16">(V)</text>
<line x1="848.5" y1="72.4" x2="848.5" y2="222.6" stroke="#6e6e6e" stroke-width="1.3" />
<text x="848.8" y="55.9" font-size="5.35" text-anchor="end" font-weight="normal" fill="#333"  stroke="#333" stroke-width="0.16">Charging</text>
<text x="848.8" y="62.6" font-size="5.35" text-anchor="end" font-weight="normal" fill="#333"  stroke="#333" stroke-width="0.16">Voltage</text>
<text x="848.8" y="71.2" font-size="5.6" text-anchor="end" font-weight="normal" fill="#333"  stroke="#333" stroke-width="0.16">(V)</text>
<line x1="844.0" y1="98.4" x2="848.5" y2="98.4" stroke="#6e6e6e" stroke-width="1.2" />
<text x="853.0" y="101.95" font-size="5.7" text-anchor="start" font-weight="normal" fill="#333"  stroke="#333" stroke-width="0.16">2.50</text>
<line x1="844.0" y1="123.5" x2="848.5" y2="123.5" stroke="#6e6e6e" stroke-width="1.2" />
<text x="853.0" y="125.05" font-size="5.7" text-anchor="start" font-weight="normal" fill="#333"  stroke="#333" stroke-width="0.16">2.33</text>
<line x1="844.0" y1="148.0" x2="848.5" y2="148.0" stroke="#6e6e6e" stroke-width="1.2" />
<text x="853.0" y="150.15" font-size="5.7" text-anchor="start" font-weight="normal" fill="#333"  stroke="#333" stroke-width="0.16">2.17</text>
<line x1="844.0" y1="173.1" x2="848.5" y2="173.1" stroke="#6e6e6e" stroke-width="1.2" />
<text x="853.0" y="175.35000000000002" font-size="5.7" text-anchor="start" font-weight="normal" fill="#333"  stroke="#333" stroke-width="0.16">2.00</text>
<line x1="844.0" y1="198.2" x2="848.5" y2="198.2" stroke="#6e6e6e" stroke-width="1.2" />
<text x="853.0" y="200.75" font-size="5.7" text-anchor="start" font-weight="normal" fill="#333"  stroke="#333" stroke-width="0.16">1.83</text>
<line x1="844.0" y1="222.0" x2="848.5" y2="222.0" stroke="#6e6e6e" stroke-width="1.2" />
<text x="561.0" y="231.6" font-size="5.6" text-anchor="middle" font-weight="normal" fill="#333"  stroke="#333" stroke-width="0.16">0</text>
<text x="585.3" y="231.6" font-size="5.6" text-anchor="middle" font-weight="normal" fill="#333"  stroke="#333" stroke-width="0.16">4</text>
<text x="609.6" y="231.6" font-size="5.6" text-anchor="middle" font-weight="normal" fill="#333"  stroke="#333" stroke-width="0.16">8</text>
<text x="635.4" y="231.6" font-size="5.6" text-anchor="middle" font-weight="normal" fill="#333"  stroke="#333" stroke-width="0.16">12</text>
<text x="659.2" y="231.6" font-size="5.6" text-anchor="middle" font-weight="normal" fill="#333"  stroke="#333" stroke-width="0.16">16</text>
<text x="683.8" y="231.6" font-size="5.6" text-anchor="middle" font-weight="normal" fill="#333"  stroke="#333" stroke-width="0.16">20</text>
<text x="707.6" y="231.6" font-size="5.6" text-anchor="middle" font-weight="normal" fill="#333"  stroke="#333" stroke-width="0.16">24</text>
<text x="731.4" y="231.6" font-size="5.6" text-anchor="middle" font-weight="normal" fill="#333"  stroke="#333" stroke-width="0.16">28</text>
<text x="755.5" y="231.6" font-size="5.6" text-anchor="middle" font-weight="normal" fill="#333"  stroke="#333" stroke-width="0.16">32</text>
<text x="779.3" y="231.6" font-size="5.6" text-anchor="middle" font-weight="normal" fill="#333"  stroke="#333" stroke-width="0.16">36</text>
<text x="803.4" y="231.6" font-size="5.6" text-anchor="middle" font-weight="normal" fill="#333"  stroke="#333" stroke-width="0.16">40</text>
<text x="560.2" y="246.5" font-size="10.2" text-anchor="start" font-weight="normal" fill="#2a2a2a" textLength="95.3" lengthAdjust="spacingAndGlyphs" >Charging Time (hours)</text>
<text x="824.4" y="68.0" font-size="8.3" text-anchor="end" fill="#2a2a2a">0.10CA-2.25V/cell&#160; temperature 25<tspan font-size="4.0" dy="-3.9">o</tspan><tspan dy="3.9">C</tspan></text>
<rect x="71.4" y="340.4" width="320.29999999999995" height="142.0" fill="#efefef"/>
<line x1="71.4" y1="364.3" x2="391.7" y2="364.3" stroke="#2a2a2a" stroke-width="0.9" />
<line x1="71.4" y1="387.8" x2="391.7" y2="387.8" stroke="#7d7d7d" stroke-width="1.5" />
<line x1="71.4" y1="411.6" x2="391.7" y2="411.6" stroke="#2a2a2a" stroke-width="0.9" />
<line x1="71.4" y1="435.5" x2="391.7" y2="435.5" stroke="#2a2a2a" stroke-width="0.9" />
<line x1="71.4" y1="459.2" x2="391.7" y2="459.2" stroke="#7d7d7d" stroke-width="1.5" />
<line x1="117.0" y1="340.4" x2="117.0" y2="482.4" stroke="#7d7d7d" stroke-width="1.5" />
<line x1="162.5" y1="340.4" x2="162.5" y2="482.4" stroke="#2a2a2a" stroke-width="0.9" />
<line x1="208.5" y1="340.4" x2="208.5" y2="482.4" stroke="#2a2a2a" stroke-width="0.9" />
<line x1="254.6" y1="340.4" x2="254.6" y2="482.4" stroke="#2a2a2a" stroke-width="0.9" />
<line x1="300.5" y1="340.4" x2="300.5" y2="482.4" stroke="#7d7d7d" stroke-width="1.5" />
<line x1="345.9" y1="340.4" x2="345.9" y2="482.4" stroke="#7d7d7d" stroke-width="1.5" />
<rect x="71.4" y="340.4" width="320.29999999999995" height="142.0" fill="none" stroke="#2b2b2b" stroke-width="1"/>
<clipPath id="cd0_05CA"><rect x="71.4" y="340.4" width="18.099999999999994" height="142.0"/></clipPath>
<clipPath id="cs0_05CA"><rect x="89.5" y="340.4" width="302.5" height="142.0"/></clipPath>
<path d="M71.40,415.60 C79.00,412.97 101.83,404.70 117.00,399.80 C132.17,394.90 147.10,390.32 162.40,386.20 C177.70,382.08 193.43,378.28 208.80,375.10 C224.17,371.92 239.32,369.18 254.60,367.10 C269.88,365.02 285.28,363.97 300.50,362.60 C315.72,361.23 330.70,359.82 345.90,358.90 C361.10,357.98 384.07,357.40 391.70,357.10" stroke="#161616" stroke-width="1.45" fill="none" stroke-dasharray="3 1.8" clip-path="url(#cd0_05CA)"/>
<path d="M71.40,415.60 C79.00,412.97 101.83,404.70 117.00,399.80 C132.17,394.90 147.10,390.32 162.40,386.20 C177.70,382.08 193.43,378.28 208.80,375.10 C224.17,371.92 239.32,369.18 254.60,367.10 C269.88,365.02 285.28,363.97 300.50,362.60 C315.72,361.23 330.70,359.82 345.90,358.90 C361.10,357.98 384.07,357.40 391.70,357.10" stroke="#161616" stroke-width="1.45" fill="none" clip-path="url(#cs0_05CA)"/>
<clipPath id="cd0_1CA"><rect x="71.4" y="340.4" width="21.299999999999997" height="142.0"/></clipPath>
<clipPath id="cs0_1CA"><rect x="92.7" y="340.4" width="299.3" height="142.0"/></clipPath>
<path d="M71.40,426.10 C79.00,423.50 101.83,415.38 117.00,410.50 C132.17,405.62 147.10,400.85 162.40,396.80 C177.70,392.75 193.43,389.32 208.80,386.20 C224.17,383.08 239.32,380.37 254.60,378.10 C269.88,375.83 285.28,374.08 300.50,372.60 C315.72,371.12 330.70,370.12 345.90,369.20 C361.10,368.28 384.07,367.45 391.70,367.10" stroke="#161616" stroke-width="1.45" fill="none" stroke-dasharray="3 1.8" clip-path="url(#cd0_1CA)"/>
<path d="M71.40,426.10 C79.00,423.50 101.83,415.38 117.00,410.50 C132.17,405.62 147.10,400.85 162.40,396.80 C177.70,392.75 193.43,389.32 208.80,386.20 C224.17,383.08 239.32,380.37 254.60,378.10 C269.88,375.83 285.28,374.08 300.50,372.60 C315.72,371.12 330.70,370.12 345.90,369.20 C361.10,368.28 384.07,367.45 391.70,367.10" stroke="#161616" stroke-width="1.45" fill="none" clip-path="url(#cs0_1CA)"/>
<clipPath id="cd0_2CA"><rect x="71.4" y="340.4" width="23.799999999999997" height="142.0"/></clipPath>
<clipPath id="cs0_2CA"><rect x="95.2" y="340.4" width="296.8" height="142.0"/></clipPath>
<path d="M71.40,435.60 C79.00,433.10 101.83,425.10 117.00,420.60 C132.17,416.10 147.10,412.38 162.40,408.60 C177.70,404.82 193.43,400.83 208.80,397.90 C224.17,394.97 239.32,393.12 254.60,391.00 C269.88,388.88 285.28,387.02 300.50,385.20 C315.72,383.38 330.70,381.57 345.90,380.10 C361.10,378.63 384.07,377.02 391.70,376.40" stroke="#161616" stroke-width="1.45" fill="none" stroke-dasharray="3 1.8" clip-path="url(#cd0_2CA)"/>
<path d="M71.40,435.60 C79.00,433.10 101.83,425.10 117.00,420.60 C132.17,416.10 147.10,412.38 162.40,408.60 C177.70,404.82 193.43,400.83 208.80,397.90 C224.17,394.97 239.32,393.12 254.60,391.00 C269.88,388.88 285.28,387.02 300.50,385.20 C315.72,383.38 330.70,381.57 345.90,380.10 C361.10,378.63 384.07,377.02 391.70,376.40" stroke="#161616" stroke-width="1.45" fill="none" clip-path="url(#cs0_2CA)"/>
<clipPath id="cd1_0CA"><rect x="71.4" y="340.4" width="23.799999999999997" height="142.0"/></clipPath>
<clipPath id="cs1_0CA"><rect x="95.2" y="340.4" width="296.8" height="142.0"/></clipPath>
<path d="M71.40,466.70 C79.00,464.53 101.83,457.55 117.00,453.70 C132.17,449.85 147.10,446.65 162.40,443.60 C177.70,440.55 193.43,437.83 208.80,435.40 C224.17,432.97 239.32,430.90 254.60,429.00 C269.88,427.10 285.28,425.73 300.50,424.00 C315.72,422.27 330.70,420.48 345.90,418.60 C361.10,416.72 384.07,413.68 391.70,412.70" stroke="#161616" stroke-width="1.45" fill="none" stroke-dasharray="3 1.8" clip-path="url(#cd1_0CA)"/>
<path d="M71.40,466.70 C79.00,464.53 101.83,457.55 117.00,453.70 C132.17,449.85 147.10,446.65 162.40,443.60 C177.70,440.55 193.43,437.83 208.80,435.40 C224.17,432.97 239.32,430.90 254.60,429.00 C269.88,427.10 285.28,425.73 300.50,424.00 C315.72,422.27 330.70,420.48 345.90,418.60 C361.10,416.72 384.07,413.68 391.70,412.70" stroke="#161616" stroke-width="1.45" fill="none" clip-path="url(#cs1_0CA)"/>
<clipPath id="cd2_0CA"><rect x="71.4" y="340.4" width="26.299999999999997" height="142.0"/></clipPath>
<clipPath id="cs2_0CA"><rect x="97.7" y="340.4" width="294.3" height="142.0"/></clipPath>
<path d="M71.40,479.20 C79.00,477.03 101.83,470.03 117.00,466.20 C132.17,462.37 147.10,459.40 162.40,456.20 C177.70,453.00 193.43,449.57 208.80,447.00 C224.17,444.43 239.32,442.75 254.60,440.80 C269.88,438.85 285.28,437.10 300.50,435.30 C315.72,433.50 330.70,431.77 345.90,430.00 C361.10,428.23 384.07,425.58 391.70,424.70" stroke="#161616" stroke-width="1.45" fill="none" stroke-dasharray="3 1.8" clip-path="url(#cd2_0CA)"/>
<path d="M71.40,479.20 C79.00,477.03 101.83,470.03 117.00,466.20 C132.17,462.37 147.10,459.40 162.40,456.20 C177.70,453.00 193.43,449.57 208.80,447.00 C224.17,444.43 239.32,442.75 254.60,440.80 C269.88,438.85 285.28,437.10 300.50,435.30 C315.72,433.50 330.70,431.77 345.90,430.00 C361.10,428.23 384.07,425.58 391.70,424.70" stroke="#161616" stroke-width="1.45" fill="none" clip-path="url(#cs2_0CA)"/>
<path d="M97.70,482.40 C100.92,481.55 106.22,479.87 117.00,477.30 C127.78,474.73 147.10,470.55 162.40,467.00 C177.70,463.45 193.43,459.17 208.80,456.00 C224.17,452.83 239.32,450.33 254.60,448.00 C269.88,445.67 285.28,443.78 300.50,442.00 C315.72,440.22 330.70,438.83 345.90,437.30 C361.10,435.77 384.07,433.55 391.70,432.80" stroke="#161616" stroke-width="1.45" fill="none" />
<text x="386.0" y="356.6" font-size="6.8" text-anchor="end" font-weight="bold" fill="#c5402d" >0.05CA</text>
<text x="386.0" y="366.4" font-size="6.8" text-anchor="end" font-weight="bold" fill="#c5402d" >0.1CA</text>
<text x="386.0" y="375.4" font-size="6.8" text-anchor="end" font-weight="bold" fill="#c5402d" >0.2CA</text>
<text x="386.0" y="413.0" font-size="6.8" text-anchor="end" font-weight="bold" fill="#c5402d" >1.0CA</text>
<text x="386.0" y="424.3" font-size="6.8" text-anchor="end" font-weight="bold" fill="#c5402d" >2.0CA</text>
<text x="386.0" y="441.8" font-size="6.8" text-anchor="end" font-weight="bold" fill="#c5402d" >3.0CA</text>
<text x="67.8" y="340.8" font-size="5.3" text-anchor="end" font-weight="normal" fill="#333"  stroke="#333" stroke-width="0.16">120</text>
<text x="67.8" y="364.6" font-size="5.3" text-anchor="end" font-weight="normal" fill="#333"  stroke="#333" stroke-width="0.16">100</text>
<text x="67.8" y="388.4" font-size="5.3" text-anchor="end" font-weight="normal" fill="#333"  stroke="#333" stroke-width="0.16">80</text>
<text x="67.8" y="411.8" font-size="5.3" text-anchor="end" font-weight="normal" fill="#333"  stroke="#333" stroke-width="0.16">60</text>
<text x="67.8" y="435.5" font-size="5.3" text-anchor="end" font-weight="normal" fill="#333"  stroke="#333" stroke-width="0.16">40</text>
<text x="67.8" y="459.3" font-size="5.3" text-anchor="end" font-weight="normal" fill="#333"  stroke="#333" stroke-width="0.16">20</text>
<text x="67.8" y="482.6" font-size="5.3" text-anchor="end" font-weight="normal" fill="#333"  stroke="#333" stroke-width="0.16">0</text>
<text x="75.2" y="490.1" font-size="5.3" text-anchor="middle" font-weight="normal" fill="#333"  stroke="#333" stroke-width="0.16">-20</text>
<text x="121.0" y="490.1" font-size="5.3" text-anchor="middle" font-weight="normal" fill="#333"  stroke="#333" stroke-width="0.16">-10</text>
<text x="164.2" y="490.1" font-size="5.3" text-anchor="middle" font-weight="normal" fill="#333"  stroke="#333" stroke-width="0.16">0</text>
<text x="211.8" y="490.1" font-size="5.3" text-anchor="middle" font-weight="normal" fill="#333"  stroke="#333" stroke-width="0.16">10</text>
<text x="257.1" y="490.1" font-size="5.3" text-anchor="middle" font-weight="normal" fill="#333"  stroke="#333" stroke-width="0.16">20</text>
<text x="303.0" y="490.1" font-size="5.3" text-anchor="middle" font-weight="normal" fill="#333"  stroke="#333" stroke-width="0.16">30</text>
<text x="348.9" y="490.1" font-size="5.3" text-anchor="middle" font-weight="normal" fill="#333"  stroke="#333" stroke-width="0.16">40</text>
<text x="391.2" y="490.1" font-size="5.3" text-anchor="end" font-weight="normal" fill="#333"  stroke="#333" stroke-width="0.16">50</text>
<text x="72.7" y="507.4" font-size="10.2" fill="#2a2a2a" textLength="69.8" lengthAdjust="spacingAndGlyphs">Temperature (<tspan font-size="6.2" dy="-4.2">o</tspan><tspan dy="4.2">C)</tspan></text>
<text transform="translate(53.2,482.2) rotate(-90)" font-size="10.2" fill="#2a2a2a" textLength="53.6" lengthAdjust="spacingAndGlyphs">Capacity (%)</text>
<rect x="521.9" y="341.4" width="320.80000000000007" height="141.8" fill="#efefef"/>
<line x1="521.9" y1="351.96" x2="842.7" y2="351.96" stroke="#2a2a2a" stroke-width="0.9" />
<line x1="521.9" y1="365.58" x2="842.7" y2="365.58" stroke="#2a2a2a" stroke-width="0.9" />
<line x1="521.9" y1="374.21" x2="842.7" y2="374.21" stroke="#2a2a2a" stroke-width="0.9" />
<line x1="521.9" y1="398.39" x2="842.7" y2="398.39" stroke="#2a2a2a" stroke-width="0.9" />
<line x1="521.9" y1="417.59" x2="842.7" y2="417.59" stroke="#2a2a2a" stroke-width="0.9" />
<line x1="521.9" y1="450.4" x2="842.7" y2="450.4" stroke="#2a2a2a" stroke-width="0.9" />
<line x1="521.9" y1="455.39" x2="842.7" y2="455.39" stroke="#2a2a2a" stroke-width="0.9" />
<line x1="521.9" y1="460.96" x2="842.7" y2="460.96" stroke="#7d7d7d" stroke-width="1.4" />
<line x1="521.9" y1="467.28" x2="842.7" y2="467.28" stroke="#2a2a2a" stroke-width="0.9" />
<line x1="521.9" y1="474.58" x2="842.7" y2="474.58" stroke="#2a2a2a" stroke-width="0.9" />
<line x1="521.9" y1="384.78" x2="719.8" y2="384.78" stroke="#2a2a2a" stroke-width="0.9" />
<line x1="830.6" y1="384.78" x2="842.7" y2="384.78" stroke="#2a2a2a" stroke-width="0.9" />
<line x1="585.6" y1="341.4" x2="585.6" y2="483.2" stroke="#2a2a2a" stroke-width="0.9" />
<line x1="649.7" y1="341.4" x2="649.7" y2="483.2" stroke="#4a4a4a" stroke-width="1.2" />
<line x1="714.1" y1="341.4" x2="714.1" y2="483.2" stroke="#7d7d7d" stroke-width="1.5" />
<line x1="778.5" y1="341.4" x2="778.5" y2="374.4" stroke="#2a2a2a" stroke-width="0.9" />
<line x1="778.5" y1="398.4" x2="778.5" y2="483.2" stroke="#2a2a2a" stroke-width="0.9" />
<rect x="521.9" y="341.4" width="320.80000000000007" height="141.8" fill="none" stroke="#2b2b2b" stroke-width="1"/>
<path d="M585.80,365.90 C587.12,366.00 590.93,366.13 593.70,366.50 C596.47,366.87 599.28,367.32 602.40,368.10 C605.52,368.88 608.65,369.85 612.40,371.20 C616.15,372.55 620.73,374.53 624.90,376.20 C629.07,377.87 633.25,379.53 637.40,381.20 C641.55,382.87 647.73,385.37 649.80,386.20 L778.8,437.9 L778.8,464.5 L649.80,411.80 C647.73,410.97 641.55,408.53 637.40,406.80 C633.25,405.07 628.02,402.72 624.90,401.40 C621.78,400.08 620.78,399.77 618.70,398.90 C616.62,398.03 615.12,397.18 612.40,396.20 C609.68,395.22 605.52,393.80 602.40,393.00 C599.28,392.20 596.47,391.80 593.70,391.40 C590.93,391.00 587.12,390.73 585.80,390.60 Z" fill="#c83226" stroke="none"/>
<text x="778.9" y="385.1" font-size="9.35" text-anchor="middle" font-weight="normal" fill="#2a2a2a" >Charging voltage:</text>
<text x="778.9" y="396.0" font-size="9.35" text-anchor="middle" font-weight="normal" fill="#2a2a2a" >2.25V/cell</text>
<text x="519.4" y="341.29999999999995" font-size="5.8" text-anchor="end" font-weight="normal" fill="#2b2b2b"  stroke="#2b2b2b" stroke-width="0.16">10</text>
<text x="519.4" y="351.9" font-size="5.8" text-anchor="end" font-weight="normal" fill="#2b2b2b"  stroke="#2b2b2b" stroke-width="0.16">8</text>
<text x="519.4" y="365.5" font-size="5.8" text-anchor="end" font-weight="normal" fill="#2b2b2b"  stroke="#2b2b2b" stroke-width="0.16">6</text>
<text x="519.4" y="374.09999999999997" font-size="5.8" text-anchor="end" font-weight="normal" fill="#2b2b2b"  stroke="#2b2b2b" stroke-width="0.16">5</text>
<text x="519.4" y="384.7" font-size="5.8" text-anchor="end" font-weight="normal" fill="#2b2b2b"  stroke="#2b2b2b" stroke-width="0.16">4</text>
<text x="519.4" y="398.29999999999995" font-size="5.8" text-anchor="end" font-weight="normal" fill="#2b2b2b"  stroke="#2b2b2b" stroke-width="0.16">3</text>
<text x="519.4" y="417.5" font-size="5.8" text-anchor="end" font-weight="normal" fill="#2b2b2b"  stroke="#2b2b2b" stroke-width="0.16">2</text>
<text x="519.4" y="450.29999999999995" font-size="5.8" text-anchor="end" font-weight="normal" fill="#2b2b2b"  stroke="#2b2b2b" stroke-width="0.16">1</text>
<text x="519.4" y="483.09999999999997" font-size="5.8" text-anchor="end" font-weight="normal" fill="#2b2b2b"  stroke="#2b2b2b" stroke-width="0.16">0.5</text>
<text x="588.7" y="491.8" font-size="5.1" text-anchor="middle" font-weight="normal" fill="#2b2b2b"  stroke="#2b2b2b" stroke-width="0.16">20</text>
<text x="588.7" y="496.8" font-size="5.1" text-anchor="middle" font-weight="normal" fill="#2b2b2b"  stroke="#2b2b2b" stroke-width="0.16">68</text>
<text x="652.6" y="491.8" font-size="5.1" text-anchor="middle" font-weight="normal" fill="#2b2b2b"  stroke="#2b2b2b" stroke-width="0.16">30</text>
<text x="652.6" y="496.8" font-size="5.1" text-anchor="middle" font-weight="normal" fill="#2b2b2b"  stroke="#2b2b2b" stroke-width="0.16">86</text>
<text x="714.0" y="491.8" font-size="5.1" text-anchor="start" font-weight="normal" fill="#2b2b2b"  stroke="#2b2b2b" stroke-width="0.16">40</text>
<text x="714.0" y="496.8" font-size="5.1" text-anchor="start" font-weight="normal" fill="#2b2b2b"  stroke="#2b2b2b" stroke-width="0.16">104</text>
<text x="778.4" y="491.8" font-size="5.1" text-anchor="start" font-weight="normal" fill="#2b2b2b"  stroke="#2b2b2b" stroke-width="0.16">50</text>
<text x="778.4" y="496.8" font-size="5.1" text-anchor="start" font-weight="normal" fill="#2b2b2b"  stroke="#2b2b2b" stroke-width="0.16">122</text>
<text x="793.6" y="491.8" font-size="5.1" fill="#2b2b2b"><tspan font-size="3.2" dy="-1.8">o</tspan><tspan dy="1.8">C</tspan></text>
<text x="793.6" y="496.8" font-size="5.1" fill="#2b2b2b"><tspan font-size="3.2" dy="-1.8">o</tspan><tspan dy="1.8">F</tspan></text>
<text x="522.6" y="508.2" font-size="9.3" text-anchor="start" font-weight="normal" fill="#2a2a2a" >Battery temperature</text>
<text transform="translate(503.8,482.7) rotate(-90)" font-size="9.3" fill="#2a2a2a" textLength="91.9" lengthAdjust="spacingAndGlyphs">Life expectancy (year)</text>
</g>
</svg>
</body></html>
